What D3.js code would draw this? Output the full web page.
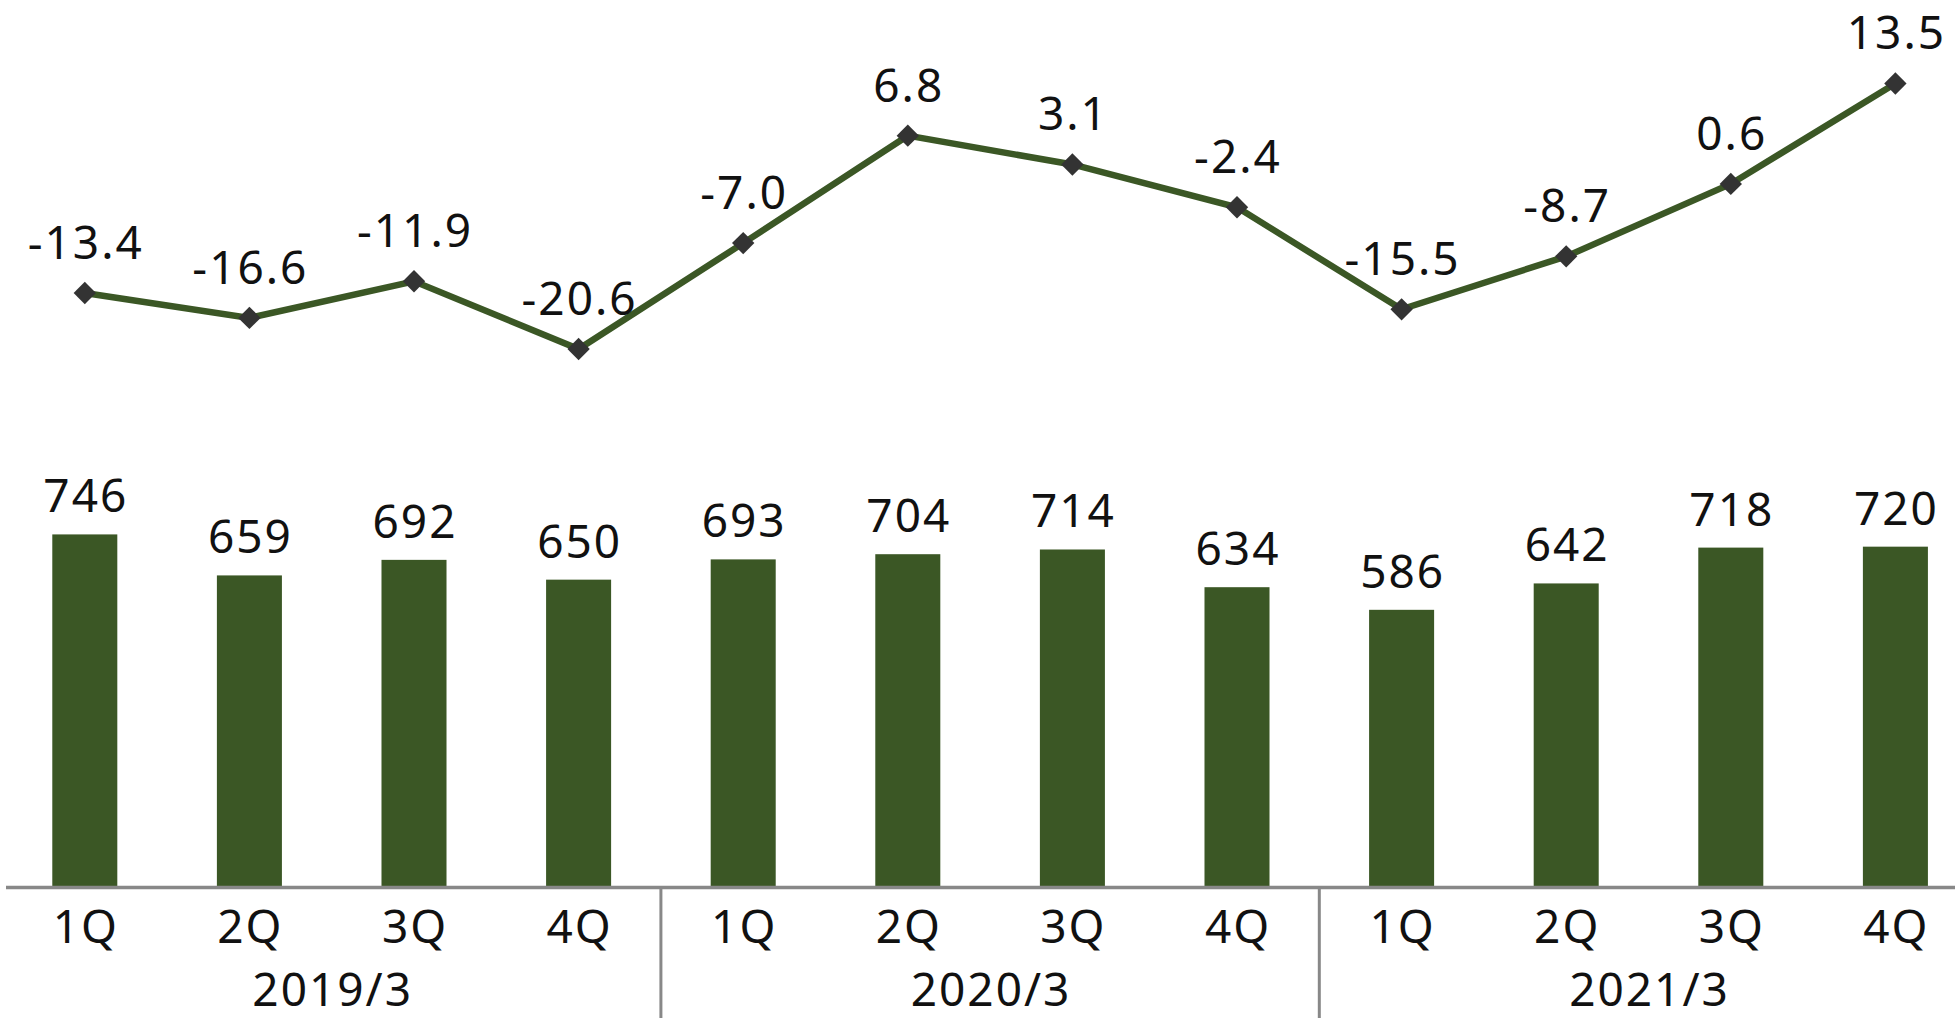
<!DOCTYPE html>
<html>
<head>
<meta charset="utf-8">
<script src="https://cdn.jsdelivr.net/npm/d3@7"></script>
<style>
  body { margin: 0; background: #fff; }
  text { font-family: "Noto Sans", sans-serif; fill: #111; letter-spacing: 2px; }
</style>
</head>
<body>
<svg></svg>
<script>
// quarterly data, three fiscal years
var quarters = ["1Q","2Q","3Q","4Q","1Q","2Q","3Q","4Q","1Q","2Q","3Q","4Q"]
var years = ["2019/3","2020/3","2021/3"]
var barValues = [746, 659, 692, 650, 693, 704, 714, 634, 586, 642, 718, 720]
var lineValues = [-13.4, -16.6, -11.9, -20.6, -7.0, 6.8, 3.1, -2.4, -15.5, -8.7, 0.6, 13.5]

var screen = {width: 1955, height: 1018}
var baseline = 886
var green = "#3b5725"
var fontSize = 46

var svg = d3.select("svg")
            .attr("width", screen.width)
            .attr("height", screen.height)

var xScale = d3.scaleBand()
               .domain(d3.range(barValues.length))
               .range([2.5, 1977.7])
               .paddingInner(0.605)
               .paddingOuter(0.3025)

var cx = function(i){ return xScale(i) + xScale.bandwidth()/2; }

var yBar = d3.scaleLinear()
             .domain([0, 800])
             .range([baseline, baseline - 800*0.4713])

var yLine = d3.scaleLinear()
              .domain([-25, 15])
              .range([383.3, 71.8])

// bars
svg.selectAll("rect.bar")
   .data(barValues)
   .enter()
   .append("rect")
   .attr("class", "bar")
   .attr("x", function(d,i){ return xScale(i); })
   .attr("y", function(d){ return yBar(d); })
   .attr("width", xScale.bandwidth())
   .attr("height", function(d){ return baseline - yBar(d); })
   .attr("fill", green)

svg.selectAll("text.barLabel")
   .data(barValues)
   .enter()
   .append("text")
   .attr("class", "barLabel")
   .attr("x", function(d,i){ return cx(i) + 1; })
   .attr("y", function(d){ return yBar(d) - 22; })
   .attr("text-anchor", "middle")
   .attr("font-size", fontSize)
   .text(function(d){ return d; })

// line
var line = d3.line()
             .x(function(d,i){ return cx(i); })
             .y(function(d){ return yLine(d); })

svg.append("path")
   .datum(lineValues)
   .attr("d", line)
   .attr("fill", "none")
   .attr("stroke", green)
   .attr("stroke-width", 6.5)

svg.selectAll("path.marker")
   .data(lineValues)
   .enter()
   .append("path")
   .attr("class", "marker")
   .attr("d", d3.symbol().type(d3.symbolSquare).size(250))
   .attr("transform", function(d,i){ return "translate(" + cx(i) + "," + yLine(d) + ") rotate(45)"; })
   .attr("fill", "#333")

svg.selectAll("text.lineLabel")
   .data(lineValues)
   .enter()
   .append("text")
   .attr("class", "lineLabel")
   .attr("x", function(d,i){ return cx(i) + 1; })
   .attr("y", function(d){ return yLine(d) - 34; })
   .attr("text-anchor", "middle")
   .attr("font-size", fontSize)
   .text(function(d){ return d.toFixed(1); })

// x axis
var xAxis = d3.axisBottom(xScale)
              .tickSize(0)
              .tickPadding(24)
              .tickFormat(function(d){ return quarters[d]; })

var gx = svg.append("g").classed("xAxis", true)
            .attr("transform", "translate(0," + baseline + ")")
            .call(xAxis)
gx.select(".domain").remove()
gx.selectAll("text")
  .attr("dx", 1)
  .attr("font-size", fontSize)
  .attr("font-family", "Noto Sans")
  .attr("fill", "#111")

svg.append("line")
   .attr("x1", 6).attr("x2", screen.width)
   .attr("y1", baseline + 1.5).attr("y2", baseline + 1.5)
   .attr("stroke", "#888")
   .attr("stroke-width", 3.5)

// year groups
var step = xScale.step()
years.forEach(function(y, g){
  var first = cx(g*4), last = cx(g*4 + 3)
  svg.append("text")
     .attr("x", (first + last)/2 + 1)
     .attr("y", 1006)
     .attr("text-anchor", "middle")
     .attr("font-size", fontSize)
     .text(y)
  if (g > 0) {
    svg.append("line")
       .attr("x1", first - step/2).attr("x2", first - step/2)
       .attr("y1", baseline + 3).attr("y2", screen.height)
       .attr("stroke", "#888")
       .attr("stroke-width", 3)
  }
})
</script>
</body>
</html>
